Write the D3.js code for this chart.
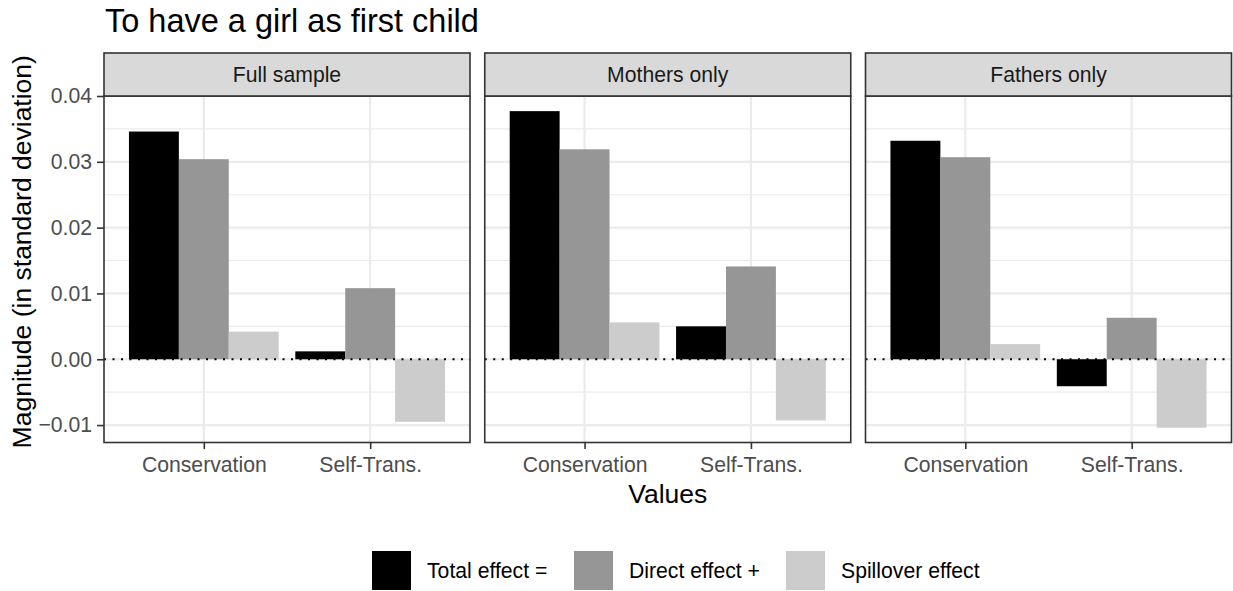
<!DOCTYPE html>
<html>
  <head>
    <meta charset="utf-8">
    <title>To have a girl as first child</title>
    <script src="https://d3js.org/d3.v7.min.js"></script>
    <style>
      body { margin: 0; background: #fff; }
      svg { font-family: "Liberation Sans", Arial, sans-serif; }
    </style>
  </head>
  <body>
    <div id="chart"></div>
    <script>
      // data
      var panels = ["Full sample", "Mothers only", "Fathers only"];
      var values = ["Conservation", "Self-Trans."];
      var effects = ["Total effect =", "Direct effect +", "Spillover effect"];
      // one row per panel: [conservation, self-trans.]
      var totalEffect = [[0.0346, 0.0012], [0.0377, 0.0050], [0.0332, -0.0041]];
      var directEffect = [[0.0304, 0.0108], [0.0319, 0.0141], [0.0307, 0.0063]];
      var spilloverEffect = [[0.0042, -0.0095], [0.0056, -0.0093], [0.0023, -0.0104]];
      var yTicks = [-0.01, 0, 0.01, 0.02, 0.03, 0.04];
      var yMinor = [-0.005, 0.005, 0.015, 0.025, 0.035];

      var colours = ["#000000", "#969696", "#cccccc"];
      var series = [totalEffect, directEffect, spilloverEffect];

      var width = 1233, height = 591;
      var svg = d3.select("#chart").append("svg")
        .attr("width", width)
        .attr("height", height);

      // layout
      var panelLeft = 104, panelWidth = 366, panelGap = 14.75;
      var stripTop = 53, panelTop = 96, panelBottom = 442.5;

      var y = d3.scaleLinear()
        .domain([-0.01265, 0.04])
        .range([panelBottom, panelTop]);

      // discrete x with ggplot-style expansion (0.6 units each side)
      var x = d3.scalePoint()
        .domain(values)
        .range([0.6 / 2.2 * panelWidth, 1.6 / 2.2 * panelWidth]);
      var unit = panelWidth / 2.2;
      var dodge = d3.scaleBand()
        .domain(effects)
        .range([-0.45 * unit, 0.45 * unit]);

      // title
      svg.append("text")
        .attr("x", 105)
        .attr("y", 32)
        .attr("font-size", 32.5)
        .attr("fill", "#000")
        .text("To have a girl as first child");

      panels.forEach(function(name, i) {
        var g = svg.append("g")
          .attr("transform", "translate(" + (panelLeft + i * (panelWidth + panelGap)) + ",0)");

        // background
        g.append("rect")
          .attr("x", 0).attr("y", panelTop)
          .attr("width", panelWidth).attr("height", panelBottom - panelTop)
          .attr("fill", "#fff");

        // grid lines
        g.selectAll(".minor")
          .data(yMinor)
          .enter().append("line")
            .attr("x1", 0).attr("x2", panelWidth)
            .attr("y1", function(d) { return y(d); })
            .attr("y2", function(d) { return y(d); })
            .attr("stroke", "#ebebeb")
            .attr("stroke-width", 1.1);
        g.selectAll(".major")
          .data(yTicks)
          .enter().append("line")
            .attr("x1", 0).attr("x2", panelWidth)
            .attr("y1", function(d) { return y(d); })
            .attr("y2", function(d) { return y(d); })
            .attr("stroke", "#ebebeb")
            .attr("stroke-width", 2.2);
        g.selectAll(".vmajor")
          .data(values)
          .enter().append("line")
            .attr("x1", function(d) { return x(d); })
            .attr("x2", function(d) { return x(d); })
            .attr("y1", panelTop).attr("y2", panelBottom)
            .attr("stroke", "#ebebeb")
            .attr("stroke-width", 2.2);

        // bars
        series.forEach(function(s, k) {
          g.selectAll(".bar" + k)
            .data(values)
            .enter().append("rect")
              .attr("x", function(d) { return x(d) + dodge(effects[k]); })
              .attr("width", dodge.bandwidth())
              .attr("y", function(d, j) { return y(Math.max(0, s[i][j])); })
              .attr("height", function(d, j) { return Math.abs(y(s[i][j]) - y(0)); })
              .attr("fill", colours[k]);
        });

        // zero line
        g.append("line")
          .attr("x1", 0).attr("x2", panelWidth)
          .attr("y1", y(0)).attr("y2", y(0))
          .attr("stroke", "#000")
          .attr("stroke-width", 2)
          .attr("stroke-dasharray", "2,6.5");

        // panel border
        g.append("rect")
          .attr("x", 0).attr("y", panelTop)
          .attr("width", panelWidth).attr("height", panelBottom - panelTop)
          .attr("fill", "none")
          .attr("stroke", "#333333")
          .attr("stroke-width", 1.6);

        // strip
        g.append("rect")
          .attr("x", 0).attr("y", stripTop)
          .attr("width", panelWidth).attr("height", panelTop - stripTop)
          .attr("fill", "#d9d9d9")
          .attr("stroke", "#333333")
          .attr("stroke-width", 1.6);
        g.append("text")
          .attr("x", panelWidth / 2)
          .attr("y", (stripTop + panelTop) / 2 + 7.5)
          .attr("text-anchor", "middle")
          .attr("font-size", 21.2)
          .attr("fill", "#1a1a1a")
          .text(name);

        // x axis
        var xAxis = d3.axisBottom(x).tickSize(6.5).tickPadding(8);
        g.append("g")
          .attr("transform", "translate(0," + panelBottom + ")")
          .call(xAxis)
          .call(function(a) {
            a.select(".domain").remove();
            a.selectAll(".tick line").attr("stroke", "#333333").attr("stroke-width", 1.6);
            a.selectAll(".tick text")
              .attr("font-size", 21.2)
              .attr("font-family", null)
              .attr("fill", "#4d4d4d");
          });

        // y axis, first panel only
        if (i == 0) {
          var yAxis = d3.axisLeft(y)
            .tickValues(yTicks)
            .tickFormat(d3.format(".2f"))
            .tickSize(7)
            .tickPadding(5);
          g.append("g")
            .call(yAxis)
            .call(function(a) {
              a.select(".domain").remove();
              a.selectAll(".tick line").attr("stroke", "#333333").attr("stroke-width", 1.6);
              a.selectAll(".tick text")
                .attr("font-size", 21.2)
                .attr("font-family", null)
                .attr("fill", "#4d4d4d");
            });
        }
      });

      // axis titles
      var panelsRight = panelLeft + 3 * panelWidth + 2 * panelGap;
      svg.append("text")
        .attr("x", (panelLeft + panelsRight) / 2)
        .attr("y", 503)
        .attr("text-anchor", "middle")
        .attr("font-size", 26.5)
        .attr("fill", "#000")
        .text("Values");
      svg.append("text")
        .attr("transform", "translate(31," + ((stripTop + panelBottom) / 2 + 4) + ") rotate(-90)")
        .attr("text-anchor", "middle")
        .attr("font-size", 26.5)
        .attr("fill", "#000")
        .text("Magnitude (in standard deviation)");

      // legend
      var legendX = [372, 574, 786];
      var legend = svg.selectAll(".legend")
        .data(effects)
        .enter().append("g")
          .attr("transform", function(d, k) { return "translate(" + legendX[k] + ",551)"; });
      legend.append("rect")
        .attr("width", 39).attr("height", 39)
        .attr("fill", function(d, k) { return colours[k]; });
      legend.append("text")
        .attr("x", 55)
        .attr("y", 27)
        .attr("font-size", 21.2)
        .attr("fill", "#000")
        .text(function(d) { return d; });
    </script>
  </body>
</html>
